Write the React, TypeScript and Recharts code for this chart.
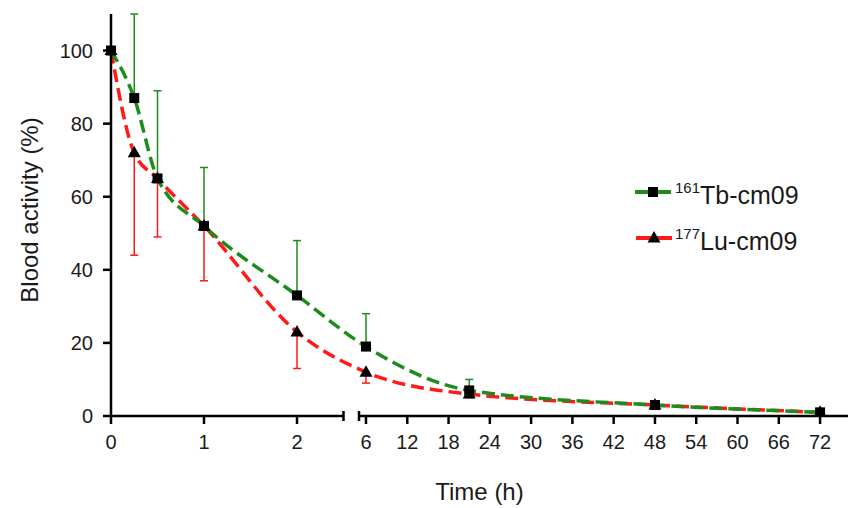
import React from 'react';
import { LineChart, Line, XAxis, YAxis, ErrorBar, ReferenceLine } from 'recharts';

// sampling times (h) and mean blood activity (% of initial)
const times = [0, 0.25, 0.5, 1, 2, 6, 21, 48, 72];
const tbValues = [100, 87, 65, 52, 33, 19, 7, 3, 1];
const tbErrUp = [0, 23, 24, 16, 15, 9, 3, 0, 0];
const luValues = [100, 72, 65, 52, 23, 12, 6, 3, 1];
const luErrDown = [0, 28, 16, 15, 10, 3, 1, 0, 0];

const leftTicks = [0, 1, 2];
const rightTicks = [6, 12, 18, 24, 30, 36, 42, 48, 54, 60, 66, 72];
const yTicks = [0, 20, 40, 60, 80, 100];

const GREEN = '#1c8c1c';
const RED = '#ff1a1a';
const FONT = '"Liberation Sans", Arial, sans-serif';

// broken time axis: 0-2.5 h stretched, 5-76 h compressed
const LEFT_PER_H = 93;
const LEFT_END = 232.5;
const RIGHT_BEGIN = 248;
const RIGHT_AT_6 = 255;
const RIGHT_PER_H = 6.88;
const AXIS_END = 737;
const toU = (t: number) => (t <= 2.5 ? t * LEFT_PER_H : RIGHT_AT_6 + (t - 6) * RIGHT_PER_H);

const tickDefs = [
  ...leftTicks.map(t => ({ u: toU(t), label: String(t), brk: false })),
  { u: LEFT_END, label: '', brk: true },
  { u: RIGHT_BEGIN, label: '', brk: true },
  ...rightTicks.map(t => ({ u: toU(t), label: String(t), brk: false })),
];

const data = times.map((t, i) => ({
  u: toU(t),
  tb: tbValues[i],
  tbErr: tbErrUp[i] ? [0, tbErrUp[i]] : null,
  lu: luValues[i],
  luErr: luErrDown[i] ? [luErrDown[i], 0] : null,
}));

function TimeTick(props: any) {
  const { x, y, payload } = props;
  const def = tickDefs.reduce((a, b) => (Math.abs(b.u - payload.value) < Math.abs(a.u - payload.value) ? b : a));
  if (def.brk) {
    return <line x1={x} x2={x} y1={y - 5} y2={y + 5} stroke="#000" strokeWidth={2.5} />;
  }
  return (
    <g>
      <line x1={x} x2={x} y1={y} y2={y + 8} stroke="#000" strokeWidth={2.5} />
      <text x={x} y={y + 33} textAnchor="middle" fontSize={20} fill="#1a1a1a" fontFamily={FONT}>
        {def.label}
      </text>
    </g>
  );
}

function SquareDot(props: any) {
  const { cx, cy, index } = props;
  return <rect key={'s' + index} x={cx - 5} y={cy - 5} width={10} height={10} fill="#000" />;
}

function TriangleDot(props: any) {
  const { cx, cy, index } = props;
  return <polygon key={'t' + index} points={`${cx},${cy - 7} ${cx - 6.5},${cy + 4.5} ${cx + 6.5},${cy + 4.5}`} fill="#000" />;
}

function LegendBox() {
  return (
    <svg width={200} height={95} style={{ position: 'absolute', left: 630, top: 170, overflow: 'visible' }}>
      <line x1={5} x2={41} y1={22} y2={22} stroke={GREEN} strokeWidth={4} />
      <rect x={18} y={17} width={10} height={10} fill="#000" />
      <text x={45} y={34} fontFamily={FONT} fill="#1a1a1a">
        <tspan fontSize={15} dy={-11}>161</tspan>
        <tspan fontSize={25} dy={11}>Tb-cm09</tspan>
      </text>
      <line x1={6} x2={42} y1={68} y2={68} stroke={RED} strokeWidth={4} />
      <polygon points="24,61 17.5,72.5 30.5,72.5" fill="#000" />
      <text x={45} y={80} fontFamily={FONT} fill="#1a1a1a">
        <tspan fontSize={15} dy={-11}>177</tspan>
        <tspan fontSize={25} dy={11}>Lu-cm09</tspan>
      </text>
    </svg>
  );
}

export default function App() {
  return (
    <div style={{ position: 'absolute', left: 0, top: 0, width: 852, height: 508, background: '#fff' }}>
      <LineChart width={852} height={508} data={data} margin={{ top: 14, right: 4, left: 0, bottom: 0 }}>
        <XAxis
          dataKey="u"
          type="number"
          domain={[0, AXIS_END]}
          ticks={tickDefs.map(d => d.u)}
          interval={0}
          axisLine={false}
          tickLine={false}
          tickSize={0}
          tickMargin={0}
          tick={<TimeTick />}
          height={92}
          label={(p: any) => (
            <text x={p.viewBox.x + p.viewBox.width / 2} y={p.viewBox.y + 84} textAnchor="middle" fontSize={24} fill="#1a1a1a" fontFamily={FONT}>
              Time (h)
            </text>
          )}
        />
        <YAxis
          type="number"
          domain={[0, 110]}
          allowDataOverflow
          ticks={yTicks}
          width={111}
          axisLine={{ stroke: '#000', strokeWidth: 2.5 }}
          tickLine={{ stroke: '#000', strokeWidth: 2.5 }}
          tickSize={8}
          tickMargin={10}
          tick={{ fontSize: 20, fill: '#1a1a1a', fontFamily: FONT }}
          label={(p: any) => {
            const cx = 29;
            const cy = p.viewBox.y + p.viewBox.height / 2 - 5;
            return (
              <text x={cx} y={cy} transform={`rotate(-90, ${cx}, ${cy})`} textAnchor="middle" dominantBaseline="central" fontSize={24} fill="#1a1a1a" fontFamily={FONT}>
                Blood activity (%)
              </text>
            );
          }}
        />
        <ReferenceLine segment={[{ x: 0, y: 0 }, { x: LEFT_END, y: 0 }]} stroke="#000" strokeWidth={2.5} />
        <ReferenceLine segment={[{ x: RIGHT_BEGIN, y: 0 }, { x: AXIS_END, y: 0 }]} stroke="#000" strokeWidth={2.5} />
        <Line
          dataKey="lu"
          type="monotone"
          stroke={RED}
          strokeWidth={3.5}
          strokeDasharray="13 6"
          dot={<TriangleDot />}
          activeDot={false}
          isAnimationActive={false}
        >
          <ErrorBar dataKey="luErr" direction="y" width={4} stroke={RED} strokeWidth={1.5} />
        </Line>
        <Line
          dataKey="tb"
          type="monotone"
          stroke={GREEN}
          strokeWidth={3.5}
          strokeDasharray="13 6"
          dot={<SquareDot />}
          activeDot={false}
          isAnimationActive={false}
        >
          <ErrorBar dataKey="tbErr" direction="y" width={4} stroke={GREEN} strokeWidth={1.5} />
        </Line>
      </LineChart>
      <LegendBox />
    </div>
  );
}
